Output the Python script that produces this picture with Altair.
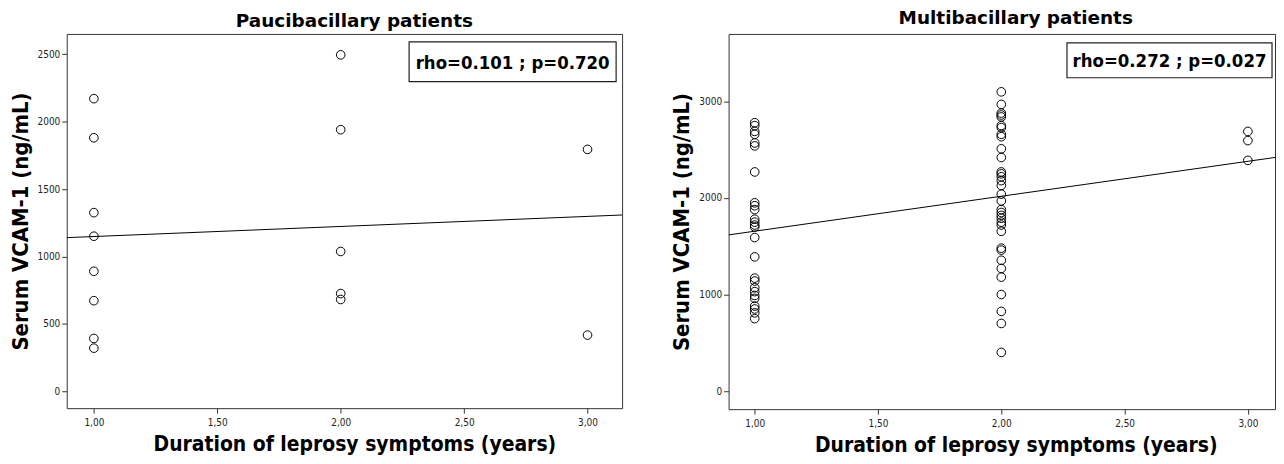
import altair as alt
import pandas as pd

# ---------------- data ----------------
pb_duration = [1, 1, 1, 1, 1, 1, 1, 1, 2, 2, 2, 2, 2, 3, 3]
pb_vcam = [2170, 1880, 1325, 1150, 890, 672, 392, 320,
           2495, 1940, 1037, 725, 681,
           1794, 417]

mb_duration = [1, 1, 1, 1, 1, 1, 1, 1, 1, 1, 1, 1, 1, 1, 1, 1, 1, 1, 1, 1, 1, 1, 1, 1, 1, 1,
               2, 2, 2, 2, 2, 2, 2, 2, 2, 2, 2, 2, 2, 2, 2, 2, 2, 2, 2, 2, 2, 2, 2, 2, 2, 2,
               2, 2, 2, 2, 2, 2, 2, 2,
               3, 3, 3]
mb_vcam = [2780, 2750, 2690, 2660, 2570, 2540, 2270, 1950, 1920, 1880, 1780, 1750, 1720,
           1700, 1590, 1390, 1170, 1140, 1070, 1030, 990, 960, 880, 850, 810, 750,
           3100, 2970, 2880, 2860, 2840, 2750, 2730, 2660, 2635, 2510, 2420, 2270, 2250,
           2220, 2180, 2130, 2040, 1970, 1880, 1850, 1820, 1790, 1750, 1720, 1655, 1480,
           1460, 1355, 1270, 1180, 1000, 825, 700, 400,
           2690, 2595, 2390]

x_ticks = [1, 1.5, 2, 2.5, 3]
pb_y_ticks = [0, 500, 1000, 1500, 2000, 2500]
mb_y_ticks = [0, 1000, 2000, 3000]

pb_title = "Paucibacillary patients"
mb_title = "Multibacillary patients"
pb_stats = "rho=0.101 ; p=0.720"
mb_stats = "rho=0.272 ; p=0.027"
x_title = "Duration of leprosy symptoms (years)"
y_title = "Serum VCAM-1 (ng/mL)"

FONT = "DejaVu Sans Condensed, DejaVu Sans"
TFONT = "DejaVu Sans"


def panel(xs, ys, title, stats, xdom, ydom, yticks, w, h, box, tdx, toff):
    df = pd.DataFrame({"duration": xs, "vcam": ys})
    xenc = alt.X("duration:Q",
                 scale=alt.Scale(domain=xdom, nice=False, zero=False),
                 axis=alt.Axis(values=x_ticks,
                               labelExpr="replace(format(datum.value, '.2f'), '.', ',')",
                               title=x_title, titleX=w / 2 + tdx))
    yenc = alt.Y("vcam:Q",
                 scale=alt.Scale(domain=ydom, nice=False, zero=False),
                 axis=alt.Axis(values=yticks, format="d", title=y_title))
    base = alt.Chart(df)
    pts = base.mark_point(shape="circle", filled=False, color="black",
                          size=75, strokeWidth=1, opacity=1).encode(x=xenc, y=yenc)
    line = base.transform_regression("duration", "vcam", extent=xdom).mark_line(
        color="black", strokeWidth=1, clip=True).encode(x=xenc, y=yenc)
    lab = alt.Chart(pd.DataFrame({"label": [stats]}))
    x0, x1, y0, y1 = box
    rect = lab.mark_rect(fill="white", stroke="#222", strokeWidth=1.2).encode(
        x=alt.value(x0), x2=alt.value(x1), y=alt.value(y0), y2=alt.value(y1))
    txt = lab.mark_text(font=FONT, fontSize=18.5, fontWeight="bold", color="black",
                        align="center", baseline="middle").encode(
        x=alt.value((x0 + x1) / 2), y=alt.value((y0 + y1) / 2 + 1), text="label:N")
    return alt.layer(line, pts, rect, txt).properties(
        width=w, height=h,
        title=alt.TitleParams(title, dx=tdx, offset=toff))


left = panel(pb_duration, pb_vcam, pb_title, pb_stats, [0.89, 3.14], [-125, 2650],
             pb_y_ticks, 558, 376, (344, 552, 8, 48), 10, 3)
right = panel(mb_duration, mb_vcam, mb_title, mb_stats, [0.894, 3.11], [-188, 3700],
              mb_y_ticks, 549, 377, (340, 546, 9, 44), 14, 6)

chart = alt.hconcat(left, right, spacing=47).properties(padding=0).configure_view(
    stroke="#333", strokeWidth=1
).configure_axis(
    grid=False, domain=False,
    labelFont=FONT, labelFontSize=10, labelColor="#222",
    tickColor="#333", tickSize=5, tickWidth=1,
    titleFont=FONT, titleFontSize=21, titleFontWeight="bold", titleColor="black",
).configure_axisX(labelPadding=4, titlePadding=7).configure_axisY(
    labelPadding=2, titlePadding=5, titleFontSize=22
).configure_title(
    font=TFONT, fontSize=18.5, fontWeight="bold", color="black", anchor="middle"
)

chart.save("out.html", embed_options={"renderer": "svg", "actions": False})
